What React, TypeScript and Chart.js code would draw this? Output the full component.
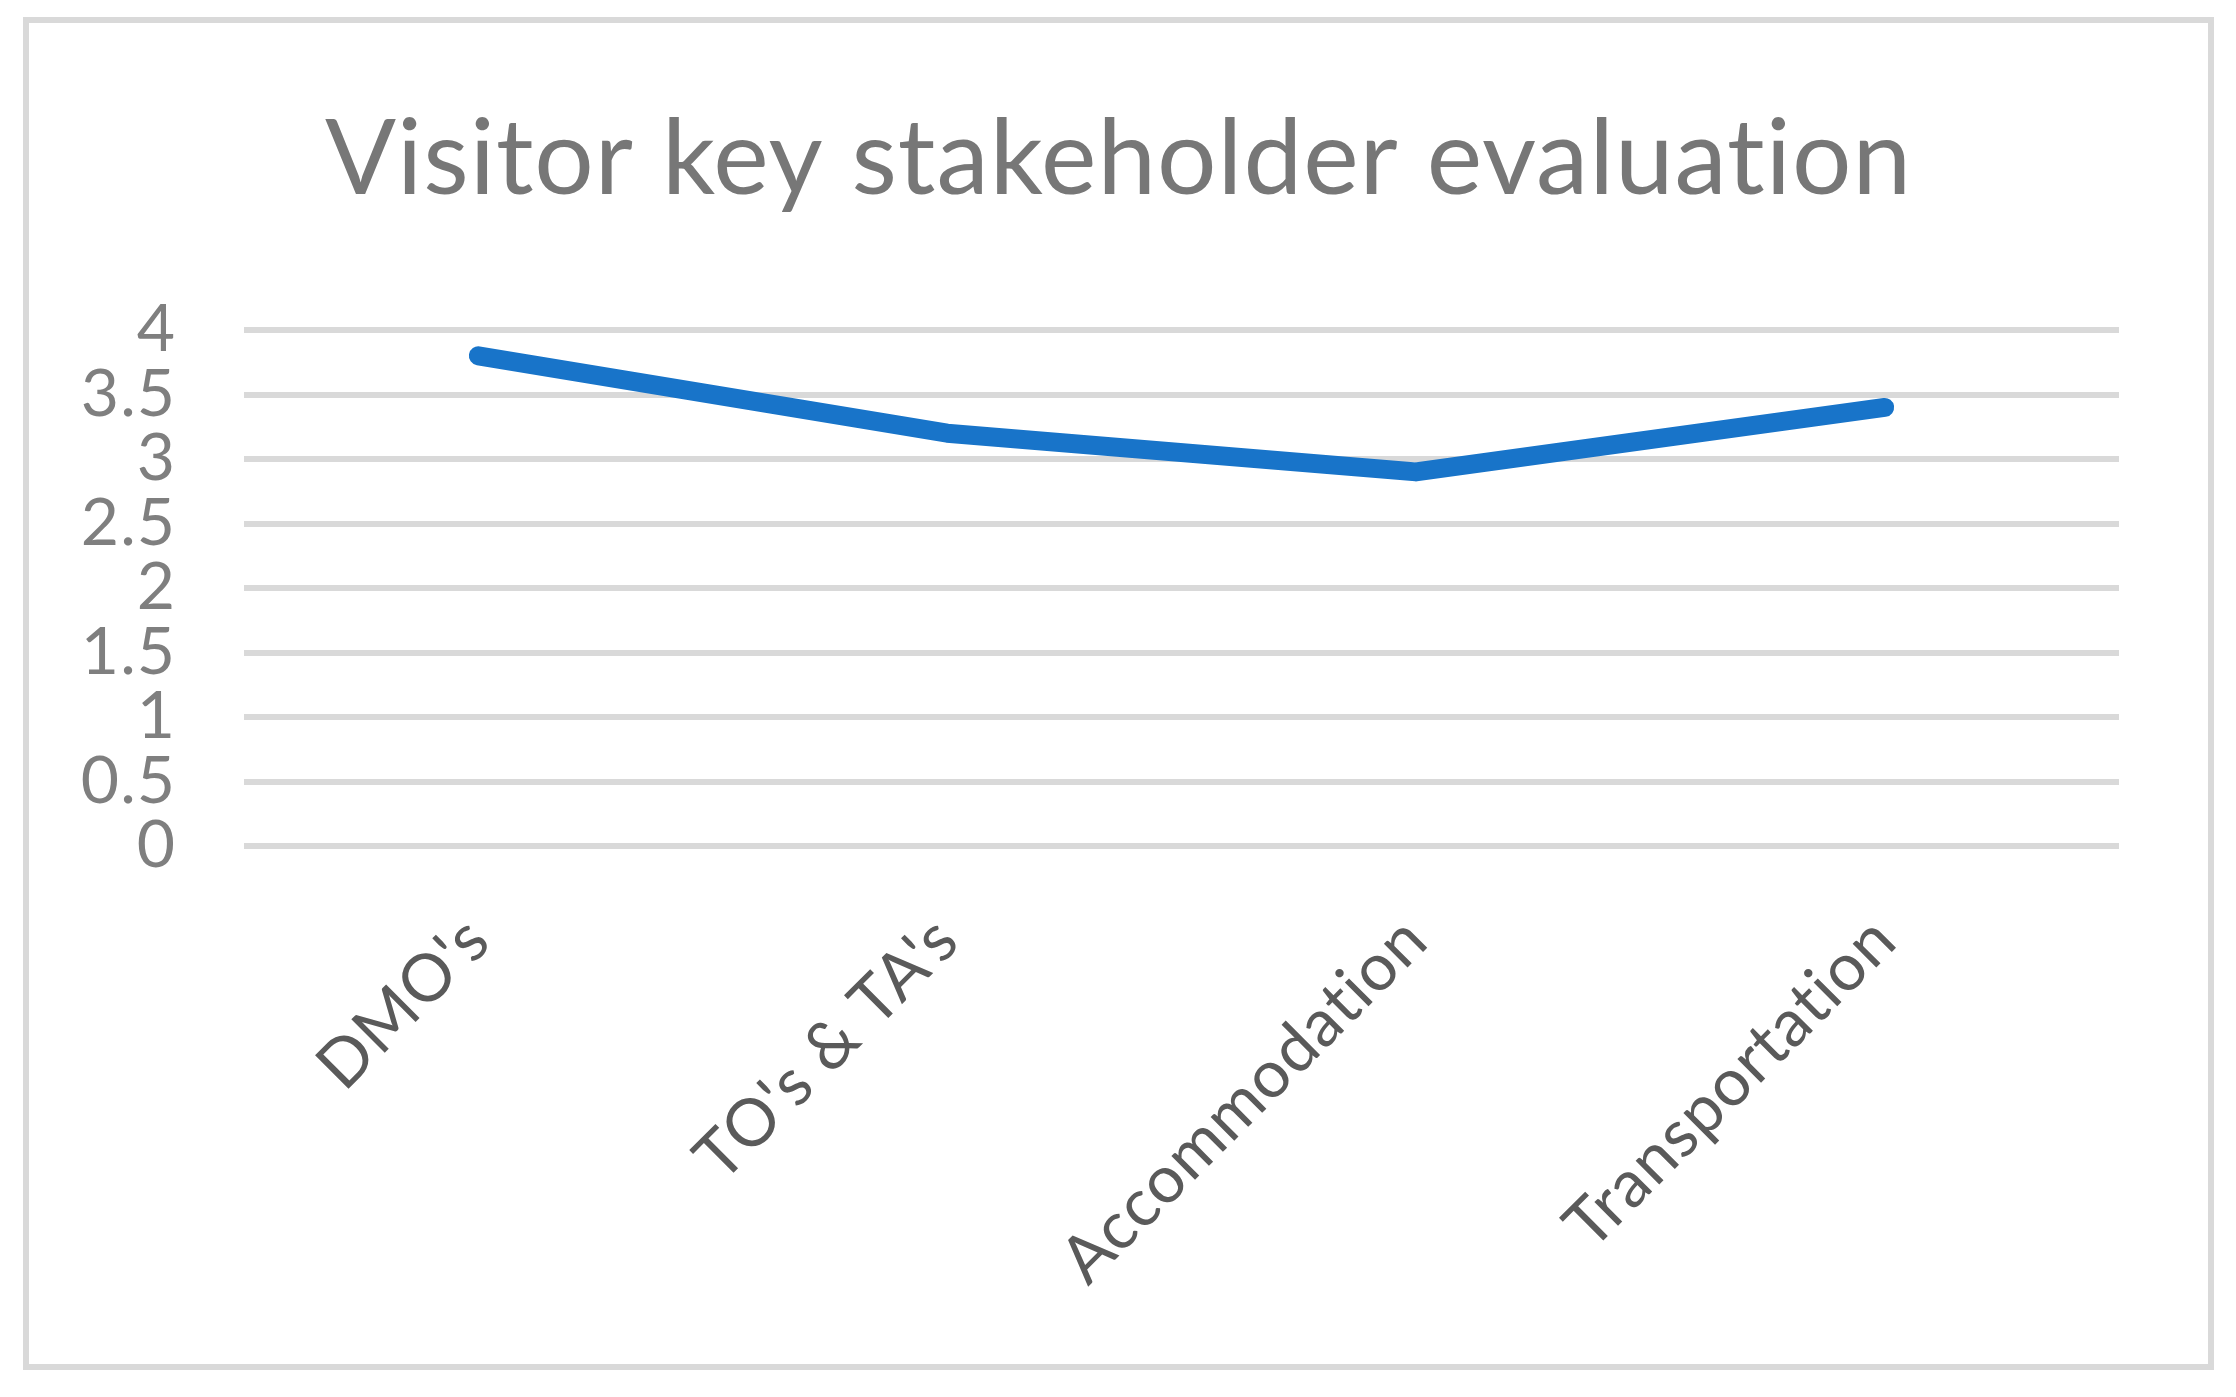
import React, { useEffect, useRef } from "react";
import { Chart, registerables } from "chart.js";

Chart.register(...registerables);

const TITLE = "Visitor key stakeholder evaluation";
const categories = ["DMO's", "TO's & TA's", "Accommodation", "Transportation"];
const scores = [3.8, 3.2, 2.9, 3.4];
const Y_MIN = 0;
const Y_MAX = 4;
const Y_STEP = 0.5;

const noLigatures = {
  id: "noLigatures",
  beforeDraw(chart: any) {
    const ctx = chart.ctx as any;
    try {
      ctx.letterSpacing = "1px";
    } catch (e) {}
    try {
      ctx.textRendering = "optimizeSpeed";
    } catch (e) {}
  },
};

export default function App() {
  const ref = useRef<HTMLCanvasElement | null>(null);

  useEffect(() => {
    document.body.style.margin = "0";
    if (!ref.current) return;
    const chart = new Chart(ref.current, {
      type: "line",
      data: {
        labels: categories,
        datasets: [
          {
            label: "Score",
            data: scores,
            borderColor: "#1874c9",
            backgroundColor: "#1874c9",
            borderWidth: 19,
            borderCapStyle: "round",
            borderJoinStyle: "round",
            pointRadius: 0,
            pointHoverRadius: 0,
            tension: 0,
            fill: false,
          },
        ],
      },
      plugins: [noLigatures],
      options: {
        animation: false,
        responsive: false,
        maintainAspectRatio: false,
        layout: { padding: 0 },
        plugins: {
          legend: { display: false },
          tooltip: { enabled: false },
          title: {
            display: true,
            text: TITLE,
            color: "#777777",
            font: { family: "Lato", size: 105, weight: "normal" },
            padding: { top: 74, bottom: 107 },
          },
        },
        scales: {
          x: {
            type: "category",
            offset: true,
            grid: { display: false },
            border: { display: false },
            ticks: {
              color: "#5a5a5a",
              font: { family: "Lato", size: 66 },
              minRotation: 45,
              maxRotation: 45,
              padding: 47,
              autoSkip: false,
            },
            afterFit: (s: any) => {
              s.height = 518;
            },
          },
          y: {
            min: Y_MIN,
            max: Y_MAX,
            grid: { color: "#d9d9d9", lineWidth: 6, drawTicks: false },
            border: { display: false },
            ticks: {
              stepSize: Y_STEP,
              autoSkip: false,
              color: "#7f7f7f",
              font: { family: "Lato", size: 66 },
              padding: 68,
              callback: (v: any) => String(Number(v)),
            },
            afterFit: (s: any) => {
              s.width = 215;
            },
          },
          yRight: {
            position: "right",
            display: true,
            min: Y_MIN,
            max: Y_MAX,
            grid: { display: false },
            border: { display: false },
            ticks: { display: false },
            afterFit: (s: any) => {
              s.width = 89;
            },
          },
        },
      },
    });
    return () => chart.destroy();
  }, []);

  return (
    <div style={{ position: "relative", width: 2236, height: 1397, background: "#fff" }}>
      <div
        style={{
          position: "absolute",
          left: 23,
          top: 17,
          width: 2179,
          height: 1341,
          border: "6px solid #d9d9d9",
        }}
      >
        <canvas ref={ref} width={2179} height={1341} style={{ display: "block" }} />
      </div>
    </div>
  );
}
